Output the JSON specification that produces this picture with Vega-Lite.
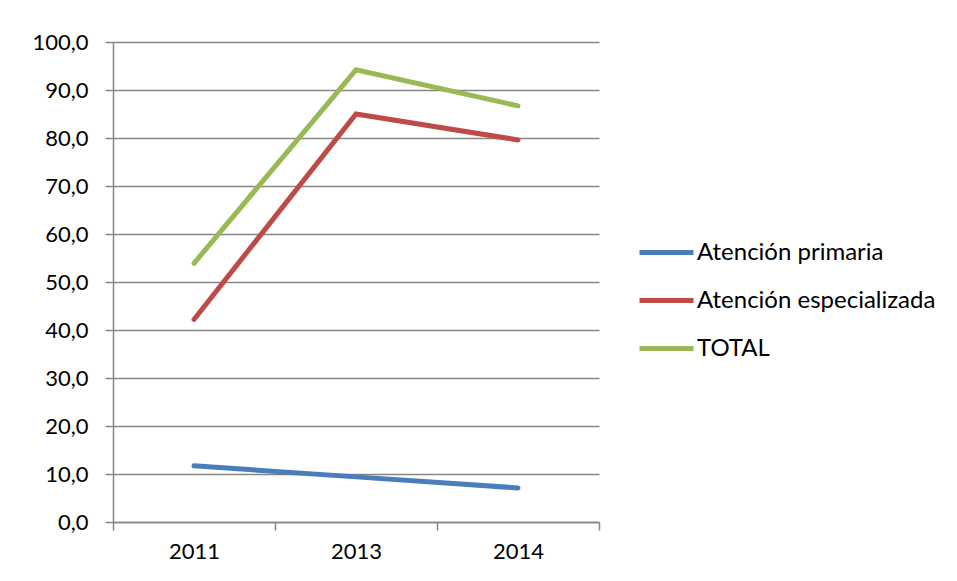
{
  "$schema": "https://vega.github.io/schema/vega-lite/v6.json",
  "width": 486,
  "height": 480,
  "autosize": {"type": "none"},
  "padding": {"left": 113, "top": 42, "right": 358, "bottom": 59},
  "background": "white",
  "data": {
    "values": [
      {"year": "2011", "serie": "Atención primaria", "value": 11.7},
      {"year": "2013", "serie": "Atención primaria", "value": 9.4},
      {"year": "2014", "serie": "Atención primaria", "value": 7.1},
      {"year": "2011", "serie": "Atención especializada", "value": 42.2},
      {"year": "2013", "serie": "Atención especializada", "value": 85.0},
      {"year": "2014", "serie": "Atención especializada", "value": 79.6},
      {"year": "2011", "serie": "TOTAL", "value": 53.9},
      {"year": "2013", "serie": "TOTAL", "value": 94.2},
      {"year": "2014", "serie": "TOTAL", "value": 86.7}
    ]
  },
  "mark": {"type": "line", "strokeWidth": 5, "strokeCap": "round", "strokeJoin": "miter"},
  "encoding": {
    "x": {
      "field": "year",
      "type": "ordinal",
      "bandPosition": 0.5,
      "scale": {"type": "band", "paddingInner": 0, "paddingOuter": 0},
      "axis": {
        "title": null,
        "labelAngle": 0,
        "tickBand": "extent",
        "tickSize": 8,
        "labelPadding": 11,
        "grid": false
      }
    },
    "y": {
      "field": "value",
      "type": "quantitative",
      "scale": {"domain": [0, 100], "nice": false},
      "axis": {
        "title": null,
        "values": [0, 10, 20, 30, 40, 50, 60, 70, 80, 90, 100],
        "labelExpr": "replace(format(datum.value, '.1f'), '.', ',')",
        "tickSize": 8,
        "labelPadding": 17,
        "grid": true
      }
    },
    "color": {
      "field": "serie",
      "type": "nominal",
      "sort": ["Atención primaria", "Atención especializada", "TOTAL"],
      "scale": {
        "domain": ["Atención primaria", "Atención especializada", "TOTAL"],
        "range": ["#4A7EBB", "#BE4B48", "#98B954"]
      },
      "legend": {
        "title": null,
        "orient": "none",
        "legendX": 524,
        "legendY": 181,
        "padding": 0,
        "symbolType": "stroke",
        "symbolSize": 2916,
        "symbolStrokeWidth": 5,
        "rowPadding": 6,
        "labelOffset": 1,
        "labelFontSize": 24,
        "labelFont": "Lato",
        "labelLimit": 0,
        "labelColor": "#000000"
      }
    }
  },
  "config": {
    "view": {"stroke": null},
    "axis": {
      "labelFont": "Lato",
      "labelFontSize": 22,
      "labelColor": "#000000",
      "domainColor": "#868686",
      "tickColor": "#868686",
      "gridColor": "#868686",
      "gridOpacity": 1,
      "domainWidth": 1.5,
      "tickWidth": 1.5,
      "gridWidth": 1.5
    }
  }
}
